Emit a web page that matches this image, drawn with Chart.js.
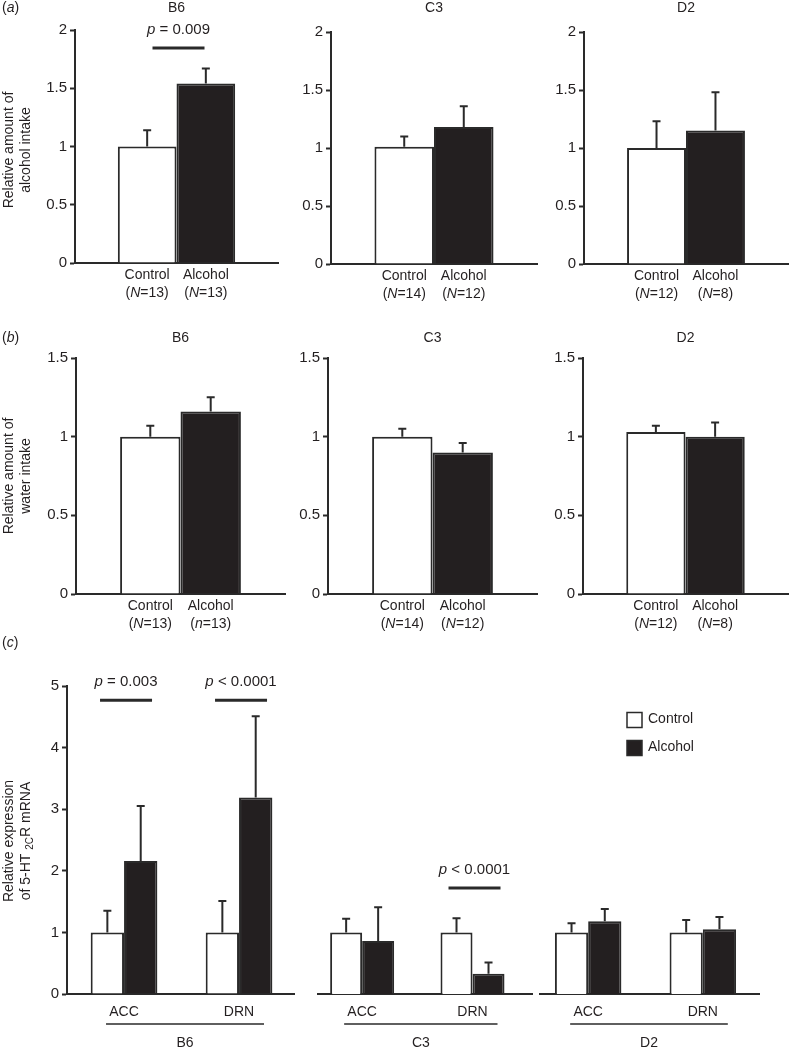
<!DOCTYPE html>
<html>
<head>
<meta charset="utf-8">
<script src="https://cdn.jsdelivr.net/npm/chart.js@4.4.1/dist/chart.umd.min.js"></script>
<style>
html, body { margin: 0; padding: 0; background: #ffffff; }
#wrap { position: relative; width: 794px; height: 1050px; overflow: hidden; background: #ffffff; }
#wrap canvas { position: absolute; }
</style>
</head>
<body>
<div id="wrap"></div>
<script>
// ---------------- data ----------------
const strains = ['B6', 'C3', 'D2'];
const groups = ['Control', 'Alcohol'];

// (a) relative amount of alcohol intake
const alcoholIntakeControl = [1.00, 1.01, 1.00];
const alcoholIntakeControlSem = [0.14, 0.09, 0.23];
const alcoholIntakeAlcohol = [1.54, 1.18, 1.15];
const alcoholIntakeAlcoholSem = [0.13, 0.18, 0.33];
const alcoholIntakeN = [['*N*=13', '*N*=13'], ['*N*=14', '*N*=12'], ['*N*=12', '*N*=8']];

// (b) relative amount of water intake
const waterIntakeControl = [1.00, 1.00, 1.03];
const waterIntakeControlSem = [0.07, 0.05, 0.04];
const waterIntakeAlcohol = [1.16, 0.90, 1.00];
const waterIntakeAlcoholSem = [0.09, 0.06, 0.09];
const waterIntakeN = [['*N*=13', '*n*=13'], ['*N*=14', '*N*=12'], ['*N*=12', '*N*=8']];

// (c) relative expression of 5-HT2C R mRNA
const regions = ['ACC', 'DRN'];
const mrnaControl = [[1.00, 1.00], [1.00, 1.00], [1.00, 1.00]];
const mrnaControlSem = [[0.35, 0.51], [0.22, 0.23], [0.15, 0.20]];
const mrnaAlcohol = [[2.16, 3.19], [0.86, 0.33], [1.18, 1.05]];
const mrnaAlcoholSem = [[0.89, 1.32], [0.55, 0.18], [0.20, 0.20]];

// tick labels
const alcoholTicks = [0, 0.5, 1, 1.5, 2];
const waterTicks = [0, 0.5, 1, 1.5];
const mrnaTicks = [0, 1, 2, 3, 4, 5];

// significance annotations (level in axis units)
const alcoholSig = [{ strain: 0, text: ' = 0.009', level: 1.845 }];
const mrnaSig = [
  { strain: 0, region: 0, text: ' = 0.003', level: 4.77 },
  { strain: 0, region: 1, text: ' < 0.0001', level: 4.77 },
  { strain: 1, region: 1, text: ' < 0.0001', level: 1.72 }
];

// ---------------- style ----------------
const FONT = "'Liberation Sans', Arial, Helvetica, sans-serif";
const TEXT = '#231f20';
const LINE = '#2a2a2a';
const FILL_ALC = '#231f20';
const FILL_CTRL = '#ffffff';
const wrap = document.getElementById('wrap');

function parseRich(s) {
  return s.split('*').map((t, i) => ({ t, italic: i % 2 === 1 })).filter(p => p.t.length);
}
function drawParts(ctx, parts, x, y, align, size) {
  size = size || 14;
  ctx.textBaseline = 'middle';
  ctx.textAlign = 'left';
  ctx.fillStyle = TEXT;
  const fontOf = p => (p.italic ? 'italic ' : '') + (p.sub ? Math.round(size * 0.72) : size) + 'px ' + FONT;
  const widths = parts.map(p => { ctx.font = fontOf(p); return ctx.measureText(p.t).width; });
  const total = widths.reduce((a, b) => a + b, 0);
  let sx = align === 'center' ? x - total / 2 : (align === 'right' ? x - total : x);
  parts.forEach((p, i) => {
    ctx.font = fontOf(p);
    ctx.fillText(p.t, sx, y + (p.sub ? size * 0.3 : 0));
    sx += widths[i];
  });
}
function drawRot(ctx, parts, cx, cy) {
  ctx.save();
  ctx.translate(cx, cy);
  ctx.rotate(-Math.PI / 2);
  drawParts(ctx, parts, 0, 0, 'center');
  ctx.restore();
}
function hLine(ctx, x0, x1, y, w) {
  ctx.strokeStyle = LINE;
  ctx.lineWidth = w;
  ctx.beginPath();
  ctx.moveTo(x0, y);
  ctx.lineTo(x1, y);
  ctx.stroke();
}

const errorBars = {
  id: 'errorBars',
  afterDatasetsDraw(chart) {
    const ctx = chart.ctx;
    const ys = chart.scales.y;
    ctx.save();
    ctx.strokeStyle = LINE;
    ctx.lineWidth = 2;
    chart.data.datasets.forEach((ds, di) => {
      const meta = chart.getDatasetMeta(di);
      meta.data.forEach((el, i) => {
        const raw = ds.data[i];
        const v = typeof raw === 'object' ? raw.y : raw;
        const top = ys.getPixelForValue(v + ds.sem[i]);
        ctx.beginPath();
        ctx.moveTo(el.x, el.y);
        ctx.lineTo(el.x, top);
        ctx.moveTo(el.x - 4, top);
        ctx.lineTo(el.x + 4, top);
        ctx.stroke();
      });
    });
    ctx.restore();
  }
};

function makeBar(c) {
  const cv = document.createElement('canvas');
  Object.assign(cv.style, { left: c.box.x + 'px', top: c.box.y + 'px', width: c.box.w + 'px', height: c.box.h + 'px' });
  cv.width = c.box.w;
  cv.height = c.box.h;
  wrap.appendChild(cv);
  const yW = c.area.x0 - c.box.x;
  const xH = c.box.y + c.box.h - c.area.y1;
  const P = { x: v => v - c.box.x, y: v => v - c.box.y };
  c.datasets.forEach(d => Object.assign(d, {
    borderColor: LINE, borderWidth: 2, barPercentage: 1, categoryPercentage: c.catPct
  }));
  return new Chart(cv, {
    type: 'bar',
    data: { labels: c.labels, datasets: c.datasets },
    options: {
      responsive: false, maintainAspectRatio: false, animation: false, devicePixelRatio: 1,
      layout: { padding: { top: c.area.y0 - c.box.y, right: c.box.x + c.box.w - c.area.x1, bottom: 0, left: c.showY ? 0 : yW } },
      plugins: { legend: { display: false }, tooltip: { enabled: false }, title: { display: false } },
      scales: {
        x: Object.assign({
          border: { display: true, color: LINE, width: 2 },
          grid: { display: false, drawTicks: false },
          afterFit: s => { s.height = xH; }
        }, c.xScale),
        y: {
          display: c.showY,
          min: 0, max: c.yMax,
          afterBuildTicks: s => { s.ticks = c.yTicks.map(v => ({ value: v })); },
          ticks: { font: { family: FONT, size: 15 }, color: TEXT, padding: 3, callback: v => String(v) },
          grid: { drawOnChartArea: false, drawTicks: true, tickLength: 5, tickWidth: 2, tickColor: LINE },
          border: { display: true, color: LINE, width: 2 },
          afterFit: s => { s.width = yW; }
        }
      }
    },
    plugins: [errorBars, {
      id: 'annot',
      afterDraw(chart) { const ctx = chart.ctx; ctx.save(); c.draw(ctx, chart, P); ctx.restore(); }
    }]
  });
}

function drawSig(ctx, chart, cx, level, text) {
  const y = chart.scales.y.getPixelForValue(level);
  ctx.lineCap = 'butt';
  hLine(ctx, cx - 24, cx + 28, y, 3);
  drawParts(ctx, [{ t: 'p', italic: true }, { t: text }], cx + 2, y - 18, 'center', 15);
}

// ---------------- rows (a) and (b) ----------------
function intakeRow(o) {
  strains.forEach((s, si) => {
    makeBar({
      box: o.boxes[si], area: o.areas[si], showY: true, yMax: o.yMax, yTicks: o.ticks, catPct: 0.578,
      labels: [s],
      datasets: [
        { label: groups[0], data: [o.ctrl[si]], sem: [o.ctrlSem[si]], backgroundColor: FILL_CTRL },
        { label: groups[1], data: [o.alc[si]], sem: [o.alcSem[si]], backgroundColor: FILL_ALC }
      ],
      xScale: { type: 'category', offset: true, ticks: { display: false } },
      draw(ctx, chart, P) {
        const ca = chart.chartArea;
        const els = [0, 1].map(d => chart.getDatasetMeta(d).data[0]);
        const gc = (els[0].x + els[1].x) / 2;
        drawParts(ctx, [{ t: s }], gc, P.y(o.titleY), 'center');
        els.forEach((el, d) => {
          drawParts(ctx, [{ t: groups[d] }], el.x, ca.bottom + 12, 'center');
          drawParts(ctx, parseRich('(' + o.n[si][d] + ')'), el.x, ca.bottom + 30, 'center');
        });
        (o.sig || []).filter(g => g.strain === si).forEach(g => drawSig(ctx, chart, gc, g.level, g.text));
        if (si === 0) {
          drawParts(ctx, parseRich('(*' + o.panel + '*)'), P.x(2), P.y(o.titleY), 'left');
          drawRot(ctx, [{ t: o.yTitle[0] }], P.x(9), P.y(o.yTitleCy));
          drawRot(ctx, [{ t: o.yTitle[1] }], P.x(26), P.y(o.yTitleCy));
        }
      }
    });
  });
}

intakeRow({
  panel: 'a', titleY: 8, yMax: 2, ticks: alcoholTicks, yTitleCy: 150,
  yTitle: ['Relative amount of', 'alcohol intake'],
  ctrl: alcoholIntakeControl, ctrlSem: alcoholIntakeControlSem,
  alc: alcoholIntakeAlcohol, alcSem: alcoholIntakeAlcoholSem, n: alcoholIntakeN, sig: alcoholSig,
  boxes: [{ x: 0, y: 0, w: 290, h: 310 }, { x: 286, y: 0, w: 256, h: 310 }, { x: 542, y: 0, w: 252, h: 310 }],
  areas: [{ x0: 75, y0: 30, x1: 278, y1: 263 }, { x0: 331, y0: 32, x1: 537, y1: 264 }, { x0: 584, y0: 32, x1: 788, y1: 264 }]
});

intakeRow({
  panel: 'b', titleY: 338, yMax: 1.5, ticks: waterTicks, yTitleCy: 476,
  yTitle: ['Relative amount of', 'water intake'],
  ctrl: waterIntakeControl, ctrlSem: waterIntakeControlSem,
  alc: waterIntakeAlcohol, alcSem: waterIntakeAlcoholSem, n: waterIntakeN, sig: [],
  boxes: [{ x: 0, y: 305, w: 292, h: 335 }, { x: 288, y: 305, w: 254, h: 335 }, { x: 542, y: 305, w: 252, h: 335 }],
  areas: [{ x0: 76, y0: 358, x1: 285, y1: 594 }, { x0: 328, y0: 358, x1: 537, y1: 594 }, { x0: 583, y0: 358, x1: 788, y1: 594 }]
});

// ---------------- row (c) ----------------
const cBoxes = [{ x: 0, y: 635, w: 300, h: 415 }, { x: 300, y: 635, w: 236, h: 415 }, { x: 536, y: 635, w: 258, h: 415 }];
const cAreas = [{ x0: 67, y0: 686, x1: 294, y1: 994 }, { x0: 309, y0: 686, x1: 532, y1: 994 }, { x0: 538, y0: 686, x1: 759, y1: 994 }];
const cRange = [[0.504, 2.478], [0.6, 2.539], [0.58, 2.49]];

strains.forEach((s, si) => {
  makeBar({
    box: cBoxes[si], area: cAreas[si], showY: si === 0, yMax: 5, yTicks: mrnaTicks, catPct: 0.58,
    labels: regions,
    datasets: [
      { label: groups[0], data: regions.map((r, i) => ({ x: i + 1, y: mrnaControl[si][i] })), sem: mrnaControlSem[si], backgroundColor: FILL_CTRL },
      { label: groups[1], data: regions.map((r, i) => ({ x: i + 1, y: mrnaAlcohol[si][i] })), sem: mrnaAlcoholSem[si], backgroundColor: FILL_ALC }
    ],
    xScale: {
      type: 'linear', offset: false, bounds: 'data', min: cRange[si][0], max: cRange[si][1],
      afterBuildTicks: sc => { sc.ticks = regions.map((r, i) => ({ value: i + 1 })); },
      ticks: { display: true, autoSkip: false, maxRotation: 0, minRotation: 0, padding: 10,
        font: { family: FONT, size: 14 }, color: TEXT, callback: v => regions[Math.round(v) - 1] }
    },
    draw(ctx, chart, P) {
      const ca = chart.chartArea;
      const centers = regions.map((r, i) => {
        const a = chart.getDatasetMeta(0).data[i], b = chart.getDatasetMeta(1).data[i];
        return (a.x + b.x) / 2;
      });
      mrnaSig.filter(g => g.strain === si).forEach(g => drawSig(ctx, chart, centers[g.region], g.level, g.text));
      const u0 = centers[0] - 18, u1 = centers[1] + 25;
      hLine(ctx, u0, u1, ca.bottom + 30, 1.5);
      drawParts(ctx, [{ t: s }], (u0 + u1) / 2, ca.bottom + 49, 'center');
      if (si === 0) {
        drawParts(ctx, parseRich('(*c*)'), P.x(2), P.y(643), 'left');
        drawRot(ctx, [{ t: 'Relative expression' }], P.x(9), P.y(841));
        drawRot(ctx, [{ t: 'of 5-HT ' }, { t: '2C', sub: true }, { t: 'R mRNA' }], P.x(26), P.y(841));
      }
      if (si === 2) {
        chart.data.datasets.forEach((ds, d) => {
          const ty = P.y(719.5 + d * 28);
          ctx.fillStyle = ds.backgroundColor;
          ctx.fillRect(P.x(627), ty - 7, 15, 15);
          ctx.strokeStyle = LINE;
          ctx.lineWidth = 1.5;
          ctx.strokeRect(P.x(627), ty - 7, 15, 15);
          drawParts(ctx, [{ t: ds.label }], P.x(648), ty, 'left');
        });
      }
    }
  });
});
</script>
</body>
</html>
